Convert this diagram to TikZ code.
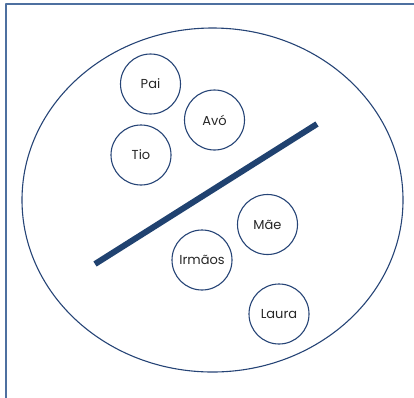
\documentclass[tikz,border=0pt]{standalone}
\usepackage{fontspec}
\setmainfont{Poppins}
\definecolor{moldura}{RGB}{78,112,160}
\definecolor{azul}{RGB}{38,68,118}
\definecolor{barra}{RGB}{32,66,112}
\definecolor{texto}{RGB}{38,38,38}
\tikzset{
  pessoa/.style={circle, draw=azul, line width=1.1pt, minimum size=60pt, inner sep=0pt,
    text=texto, font=\fontsize{13}{15}\selectfont}
}
\begin{document}
\begin{tikzpicture}[x=1pt, y=-1pt, line join=round]
				\useasboundingbox (0,0) rectangle (414,397);
				\draw[moldura, line width=1.6pt] (6,400) -- (6,4) -- (416,4);
				\draw[azul, line width=1.1pt] (212.5,200) ellipse (190.5 and 172);
				\coordinate (ini) at (95,264);
				\coordinate (fim) at (317,124);
				\draw[barra, line width=6pt] (ini) -- (fim);
				\node[pessoa] (pai) at (150.5,84) {Pai};
				\node[pessoa] (avo) at (214.5,120) {Avó};
				\node[pessoa] (tio) at (141,155) {Tio};
				\node[pessoa] (mae) at (267.5,224.5) {Mãe};
				\node[pessoa] (irmaos) at (202,260) {Irmãos};
				\node[pessoa] (laura) at (279,314) {Laura};
			\end{tikzpicture}
\end{document}
